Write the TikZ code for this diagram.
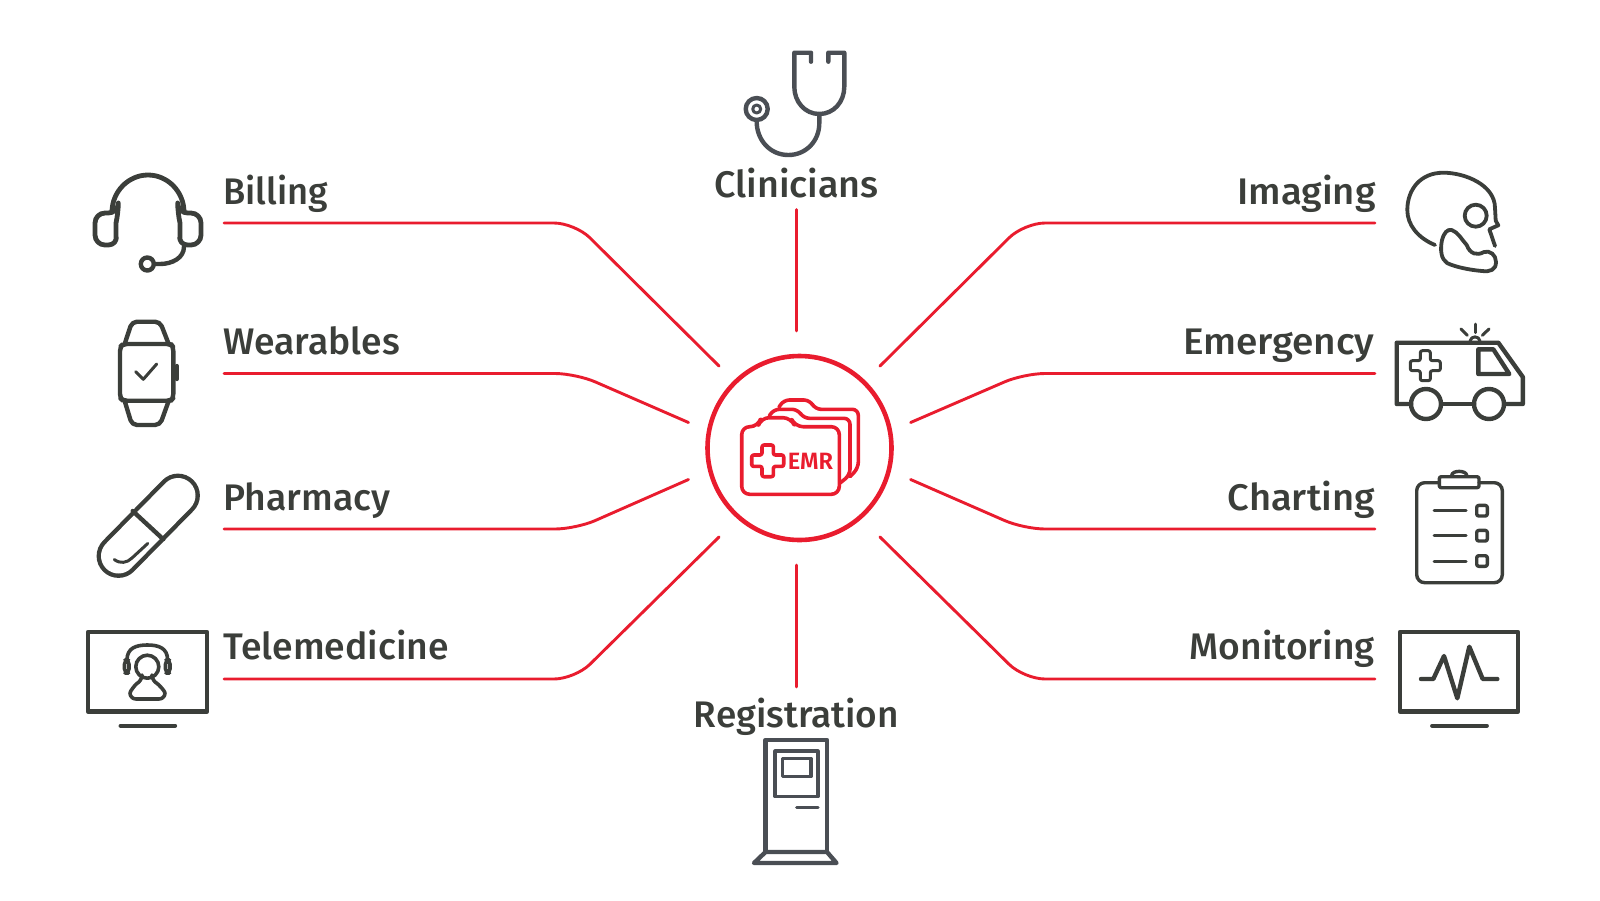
\documentclass[tikz,border=0pt]{standalone}
\usepackage{fontspec}
\setmainfont{Fira Sans Medium}
\newfontfamily\emrfont{Fira Sans SemiBold}
\definecolor{emrred}{HTML}{E91C2E}
\definecolor{ink}{HTML}{3B3E3A}
\definecolor{slate}{HTML}{4A4E54}
\newcommand{\wide}[2]{\scalebox{#1}[1]{#2}}
\tikzset{
  link/.style={draw=emrred,line width=1.45pt,rounded corners=10.5pt,line cap=round},
  lab/.style={text=ink,inner sep=0pt,font=\fontsize{18.5}{20}\selectfont},
  icon/.style={draw=ink,line width=2.2pt,line join=round,line cap=round},
  thin icon/.style={draw=ink,line width=1.5pt,line join=round,line cap=round},
  slate icon/.style={draw=slate,line width=2.2pt,line join=round,line cap=round},
  redline/.style={draw=emrred,line width=1.8pt,line join=round,line cap=round},
}
\begin{document}
\begin{tikzpicture}[x=0.5pt,y=-0.5pt]
\useasboundingbox (0,0) rectangle (1600,900);
% hub
\node[circle,draw=emrred,line width=2.3pt,minimum size=92pt,inner sep=0pt] (hub) at (799.5,448) {};
% labels
\node[lab,anchor=base west] (billing) at (223,204) {\wide{0.98}{Billing}};
\node[lab,anchor=base west] (wearables) at (223,354.5) {\wide{1.008}{Wearables}};
\node[lab,anchor=base west] (pharmacy) at (223,510) {\wide{1.01}{Pharmacy}};
\node[lab,anchor=base west] (telemedicine) at (223,659) {\wide{1.01}{Telemedicine}};
\node[lab,anchor=base east] (imaging) at (1376,204) {\wide{1.034}{Imaging}};
\node[lab,anchor=base east] (emergency) at (1375,354.5) {\wide{1.05}{Emergency}};
\node[lab,anchor=base east] (charting) at (1375,510) {\wide{1.03}{Charting}};
\node[lab,anchor=base east] (monitoring) at (1375,659) {\wide{1.006}{Monitoring}};
\node[lab,anchor=base] (clinicians) at (796.5,197) {\wide{1.02}{Clinicians}};
\node[lab,anchor=base] (registration) at (796.5,727) {Registration};
% connector ends
\coordinate (a1) at (224,223); \coordinate (a2) at (575,223); \coordinate (a3) at (719,366);
\coordinate (b1) at (224,373.5); \coordinate (b2) at (576,373.5); \coordinate (b3) at (688.5,422.5);
\coordinate (c1) at (224,529); \coordinate (c2) at (576,529); \coordinate (c3) at (688.5,479.5);
\coordinate (d1) at (224,679); \coordinate (d2) at (575,679); \coordinate (d3) at (719,537);
\coordinate (e1) at (1375,223); \coordinate (e2) at (1024,223); \coordinate (e3) at (880,366);
\coordinate (f1) at (1375,373.5); \coordinate (f2) at (1024,373.5); \coordinate (f3) at (910.6,422.5);
\coordinate (g1) at (1375,529); \coordinate (g2) at (1024,529); \coordinate (g3) at (910.6,479.5);
\coordinate (h1) at (1375,679); \coordinate (h2) at (1024,679); \coordinate (h3) at (880,537);
\coordinate (t1) at (796.5,209.5); \coordinate (t2) at (796.5,331);
\coordinate (r1) at (796.5,565); \coordinate (r2) at (796.5,687);
\foreach \p in {a,b,c,d,e,f,g,h}{\draw[link] (\p1) -- (\p2) -- (\p3);}
\draw[link] (t1) -- (t2);
\draw[link] (r1) -- (r2);
% EMR folders
\draw[redline,rounded corners=4pt] (741.7,494.3) -- (741.7,426.7) -- (758,426.7) -- (761,417.7) -- (791,417.7) -- (795,426.7) -- (839.3,426.7) -- (839.3,494.3) -- cycle;
\draw[redline,rounded corners=3pt] (769.3,416) -- (773.3,409.3) -- (798,409.3) -- (803.3,418.3) -- (850,418.3) -- (850,475) -- (840,483);
\draw[redline,rounded corners=3pt] (779,407.3) -- (783.3,400) -- (810,400) -- (815,409.3) -- (858.3,409.3) -- (858.3,468) -- (850,476.7);
\draw[redline,rounded corners=1pt] (762,445) -- (773.4,445) -- (773.4,455) -- (783.7,455) -- (783.7,466.4) -- (773.4,466.4) -- (773.4,476.7) -- (762,476.7) -- (762,466.4) -- (751.7,466.4) -- (751.7,455) -- (762,455) -- cycle;
\node[text=emrred,inner sep=0pt,anchor=base,font=\emrfont\fontsize{11.8}{13}\selectfont] (emrtext) at (810.5,469) {EMR};
% headset
\draw[icon,line width=2.4pt] (112,212) .. controls (112,192) and (128,175) .. (148,175) .. controls (168,175) and (184,192) .. (184,212);
\draw[icon,line width=2.4pt,rounded corners=5pt] (118.3,213) -- (95,213) -- (95,245) -- (118.3,245) .. controls (116,235) and (116,223) .. (118.3,213) -- cycle;
\draw[icon,line width=2.4pt,rounded corners=5pt] (177.7,213) -- (201,213) -- (201,245) -- (177.7,245) .. controls (180,235) and (180,223) .. (177.7,213) -- cycle;
\draw[icon] (147.3,264) circle[radius=6.5];
\draw[icon] (154,264) -- (160,264) .. controls (172,264) and (184,258) .. (184,246.7);
% watch
\draw[icon,rounded corners=2pt] (123,344) -- (171,344) -- (173.3,347) -- (173.3,398) -- (171,400.7) -- (123,400.7) -- (120,398) -- (120,347) -- cycle;
\draw[icon,rounded corners=2.5pt] (125,343) -- (132,321.7) -- (160,321.7) -- (168.3,343);
\draw[icon,rounded corners=2.5pt] (125,402) -- (132,425) -- (160,425) -- (168.3,402);
\draw[icon] (176.7,366) -- (176.7,379);
\draw[thin icon] (135.7,371.7) -- (143.3,379.3) -- (156.7,364);
% pill
\draw[ink,line width=2.2pt,double=white,double distance=17.5pt,line cap=round] (118.5,556) -- (178,495.5);
\draw[icon] (132.7,511) -- (163.3,539.3);
\draw[thin icon] (114.3,559.5) .. controls (120,564) and (127,563) .. (132,558) -- (147.7,543.5);
% telemedicine monitor
\draw[icon] (88,632) rectangle (207,711.5);
\draw[icon] (120.7,725.7) -- (175,725.7);
\draw[thin icon,line width=1.8pt] (147.3,666.7) circle[radius=11.5];
\draw[thin icon,line width=1.8pt] (127,660) .. controls (127,648) and (136,645) .. (147.3,645) .. controls (158.7,645) and (167.6,648) .. (167.6,660);
\draw[thin icon,line width=1.8pt,rounded corners=2pt] (124.5,660) rectangle (129,673);
\draw[thin icon,line width=1.8pt,rounded corners=2pt] (165.5,660) rectangle (170,673);
\draw[thin icon,line width=1.8pt,rounded corners=3pt] (142,678) -- (142,681) .. controls (136,684) and (130,691) .. (130,699) -- (165,699) .. controls (165,691) and (158,684) .. (152,681) -- (152,678);
% skull
\draw[icon,line width=1.9pt] (1435,245) .. controls (1418,238) and (1407.3,225) .. (1407.3,210) .. controls (1407.3,190) and (1420,172.7) .. (1443.3,172.7) .. controls (1465,172.7) and (1495,185) .. (1495,208) -- (1495.7,220.7) -- (1498.3,225.3) -- (1489.3,229.3) -- (1495,246);
\draw[icon,line width=1.9pt] (1475.7,215.7) circle[radius=11];
\draw[icon,line width=1.9pt] (1451.7,230) .. controls (1458,232) and (1462,240) .. (1466.7,245) .. controls (1470,254) and (1477,256) .. (1484,252) .. controls (1490,250) and (1496,255) .. (1496,262) .. controls (1496,270) and (1490,272) .. (1482,271) .. controls (1470,270) and (1455,267) .. (1447,263) .. controls (1441,259) and (1440,250) .. (1442,240) .. controls (1444,233) and (1447,229) .. (1451.7,230) -- cycle;
% ambulance
\draw[icon] (1411,404) -- (1396.7,404) -- (1396.7,342.7) -- (1498.3,342.7) -- (1522.8,377) -- (1522.8,404) -- (1504,404);
\draw[icon] (1441,404) -- (1474,404);
\draw[icon] (1426,404) circle[radius=15];
\draw[icon] (1489,404) circle[radius=15];
\draw[icon] (1478.3,349.3) -- (1493.3,349.3) -- (1509.3,374) -- (1478.3,374) -- cycle;
\draw[thin icon,rounded corners=1pt] (1420.3,350.7) -- (1430.3,350.7) -- (1430.3,360.7) -- (1440.3,360.7) -- (1440.3,370.7) -- (1430.3,370.7) -- (1430.3,380.7) -- (1420.3,380.7) -- (1420.3,370.7) -- (1410.3,370.7) -- (1410.3,360.7) -- (1420.3,360.7) -- cycle;
\draw[thin icon] (1470,341) .. controls (1471,335.5) and (1479,335.5) .. (1480,341);
\draw[thin icon] (1475,324) -- (1475,332.7);
\draw[thin icon] (1461,329) -- (1467.3,335.3);
\draw[thin icon] (1489,329) -- (1482.3,335.3);
% clipboard
\draw[thin icon,line width=1.7pt,rounded corners=4pt] (1439.3,482.7) -- (1416.7,482.7) -- (1416.7,582.7) -- (1502.3,582.7) -- (1502.3,482.7) -- (1479,482.7);
\draw[icon,line width=1.7pt,rounded corners=1pt] (1439.3,476.7) rectangle (1479,487.7);
\draw[thin icon,line width=1.7pt] (1451.7,475.5) .. controls (1451.7,470) and (1466.7,470) .. (1466.7,475.5);
\draw[thin icon] (1434,510.7) -- (1466,510.7);
\draw[thin icon] (1434,535.7) -- (1466,535.7);
\draw[thin icon] (1434,561) -- (1466,561);
\draw[icon,line width=1.7pt,rounded corners=1pt] (1476.7,505.4) rectangle (1487.3,516);
\draw[icon,line width=1.7pt,rounded corners=1pt] (1476.7,530.4) rectangle (1487.3,541);
\draw[icon,line width=1.7pt,rounded corners=1pt] (1476.7,555.7) rectangle (1487.3,566.3);
% monitoring
\draw[icon] (1400,632) rectangle (1518,711.5);
\draw[icon] (1432.3,725.7) -- (1486.7,725.7);
\draw[icon] (1421,679) -- (1433.3,679) -- (1444,656) -- (1457.3,698.3) -- (1469.3,646.7) -- (1482.7,679) -- (1497.3,679);
% stethoscope
\draw[slate icon] (811,61.7) -- (811,52.7) -- (794.3,52.7) -- (794.3,86.7) .. controls (794.3,102) and (805,114) .. (819.3,114) .. controls (833.6,114) and (844.3,102) .. (844.3,86.7) -- (844.3,52.7) -- (828.3,52.7) -- (828.3,61.7);
\draw[slate icon] (819.3,114) -- (819.3,123.3) .. controls (819.3,141) and (806,155) .. (788.3,155) .. controls (770,155) and (756.7,140) .. (756.7,121.7);
\draw[slate icon] (756.7,109) circle[radius=11];
\draw[slate icon,line width=1.5pt] (756.7,109) circle[radius=4];
% kiosk
\draw[slate icon] (765.5,852) -- (765.5,740) -- (827,740) -- (827,852);
\draw[slate icon] (765.5,852) -- (827,852) -- (836.5,863) -- (754,863) -- cycle;
\draw[slate icon,line width=1.6pt] (775,751) rectangle (818,796.7);
\draw[slate icon,line width=1.6pt] (782.5,758.3) rectangle (811,776.7);
\draw[slate icon,line width=1.6pt] (796.7,807.3) -- (818,807.3);
\end{tikzpicture}
\end{document}
